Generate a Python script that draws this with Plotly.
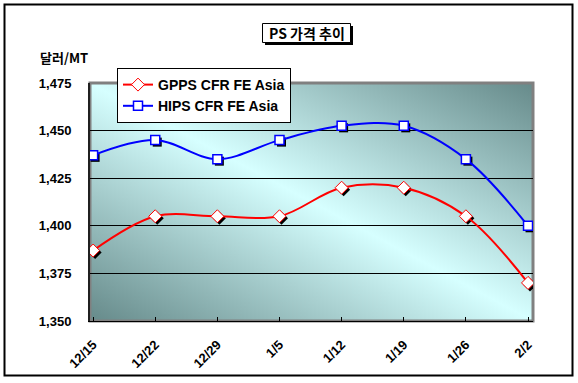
import base64
import plotly.graph_objects as go

dates = ["12/15", "12/22", "12/29", "1/5", "1/12", "1/19", "1/26", "2/2"]
gpps = [1387, 1405, 1405, 1405, 1420, 1420, 1405, 1370]
hips = [1437, 1445, 1435, 1445, 1452.5, 1452.5, 1435, 1400]
y_ticks = [1350, 1375, 1400, 1425, 1450, 1475]

W, H = 578, 383
L, R, T, B = 90, 45, 83, 62
pw, ph = W - L - R, H - T - B

xs = list(range(len(dates)))
x_range = [-0.05, len(dates) - 1 + 0.08]
y_range = [y_ticks[0], y_ticks[-1]]

# shadow offset (~2px) in data units
dx = 2 * (x_range[1] - x_range[0]) / pw
dy = 2 * (y_range[1] - y_range[0]) / ph

def px(xp):
    return (xp - L) / pw

def py(yp):
    return (H - B - yp) / ph

svg = ('<svg xmlns="http://www.w3.org/2000/svg" width="443" height="238" viewBox="0 0 100 100" preserveAspectRatio="none">'
       '<defs><linearGradient id="g" x1="0" y1="1" x2="1" y2="0">'
       '<stop offset="0" stop-color="#668a8a"/>'
       '<stop offset="0.5" stop-color="#d6ffff"/>'
       '<stop offset="1" stop-color="#668a8a"/>'
       '</linearGradient></defs>'
       '<rect x="0" y="0" width="100" height="100" fill="url(#g)"/></svg>')
src = "data:image/svg+xml;base64," + base64.b64encode(svg.encode()).decode()

fig = go.Figure()

# marker shadows
fig.add_trace(go.Scatter(x=[v + dx for v in xs], y=[v - dy for v in gpps], mode="markers",
                         marker=dict(symbol="diamond", size=10, color="black"),
                         showlegend=False, hoverinfo="skip"))
fig.add_trace(go.Scatter(x=[v + dx for v in xs], y=[v - dy for v in hips], mode="markers",
                         marker=dict(symbol="square", size=9, color="black"),
                         showlegend=False, hoverinfo="skip"))

fig.add_trace(go.Scatter(x=xs, y=gpps, name="GPPS CFR FE Asia", mode="lines+markers",
                         line=dict(color="#ff0000", width=2, shape="spline", smoothing=1),
                         marker=dict(symbol="diamond", size=10, color="white",
                                     line=dict(color="#ff0000", width=1))))
fig.add_trace(go.Scatter(x=xs, y=hips, name="HIPS CFR FE Asia", mode="lines+markers",
                         line=dict(color="#0000ff", width=2, shape="spline", smoothing=1),
                         marker=dict(symbol="square", size=9, color="white",
                                     line=dict(color="#0000ff", width=1.5))))

legend_font = dict(family="Liberation Sans, Arial", size=14, color="black", weight="bold")
tick_font = dict(family="Liberation Sans, Arial", size=13, color="black", weight="bold")
cjk_font = dict(family="Noto Sans CJK KR", size=14, color="black", weight="bold")

fig.update_layout(
    width=W, height=H,
    margin=dict(l=L, r=R, t=T, b=B),
    paper_bgcolor="white",
    plot_bgcolor="rgba(0,0,0,0)",
    showlegend=True,
    legend=dict(x=px(117), y=py(68), xanchor="left", yanchor="top",
                bgcolor="white", bordercolor="black", borderwidth=1,
                font=legend_font, tracegroupgap=0, itemwidth=30),
    xaxis=dict(range=x_range, tickvals=xs, ticktext=dates, tickangle=-45,
               tickfont=dict(family="Liberation Sans, Arial", size=13, color="black", weight="bold"),
               showgrid=False, zeroline=False, showline=True, linecolor="black", linewidth=1,
               ticks="inside", ticklen=4, tickcolor="black", ticklabelstandoff=10),
    yaxis=dict(range=y_range, tickvals=y_ticks, tickformat=",d",
               tickfont=tick_font, showgrid=True, gridcolor="black", gridwidth=1,
               zeroline=False, showline=True, linecolor="#202020", linewidth=2,
               ticks="", ticklabelstandoff=14),
    images=[dict(source=src, xref="paper", yref="paper", x=0, y=1, sizex=1, sizey=1,
                 xanchor="left", yanchor="top", sizing="stretch", layer="below")],
    shapes=[
        dict(type="rect", xref="paper", yref="paper", x0=0, y0=0, x1=1, y1=1,
             line=dict(color="#808080", width=3), layer="below"),
        dict(type="rect", xref="paper", yref="paper", x0=px(4.5), y0=py(375.5),
             x1=px(572.5), y1=py(4.5), line=dict(color="black", width=2)),
        # title box shadow and box
        dict(type="rect", xref="paper", yref="paper", x0=px(265), y0=py(45),
             x1=px(353), y1=py(26), fillcolor="black", line=dict(width=0)),
        dict(type="rect", xref="paper", yref="paper", x0=px(262.5), y0=py(42.5),
             x1=px(350.5), y1=py(23.5), fillcolor="white", line=dict(color="black", width=1)),
    ],
    annotations=[
        dict(text="PS 가격 추이", xref="paper", yref="paper", x=px(306.5), y=py(33),
             xanchor="center", yanchor="middle", showarrow=False, font=cjk_font),
        dict(text="달러/MT", xref="paper", yref="paper", x=px(64), y=py(58),
             xanchor="center", yanchor="middle", showarrow=False,
             font=dict(family="Noto Sans CJK KR", size=13, color="black", weight="bold")),
    ],
)

fig.write_html("out.html", config={"displayModeBar": False},
               post_script="document.body.style.margin='0px';")
